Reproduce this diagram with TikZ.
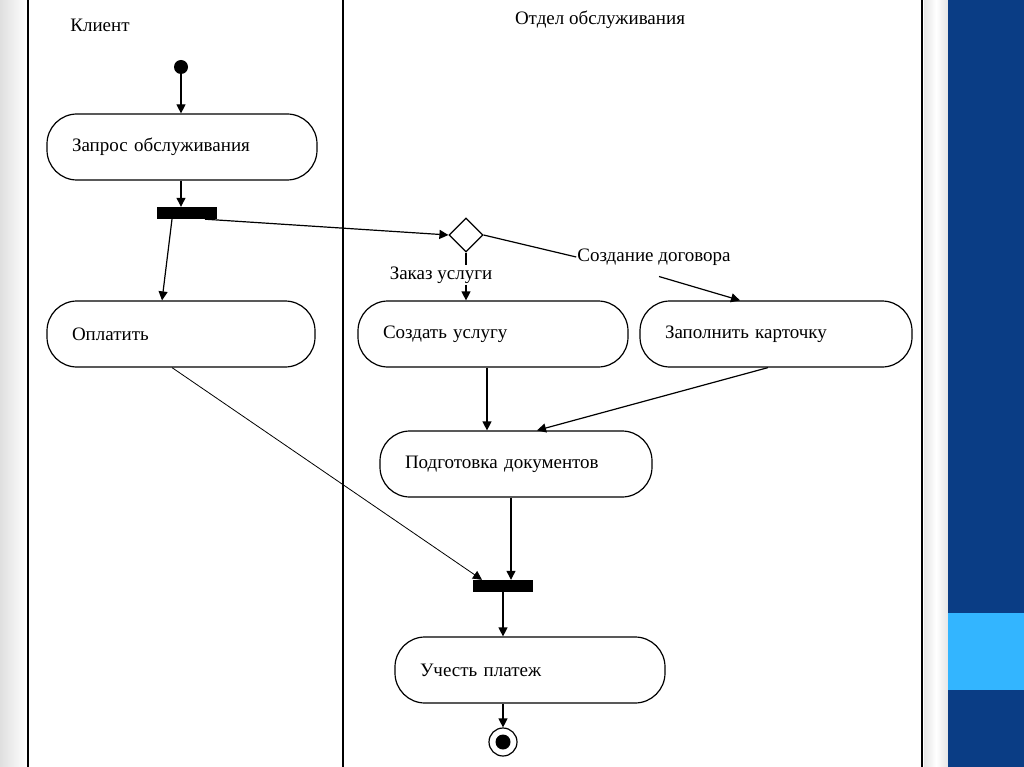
\documentclass[tikz,border=0pt]{standalone}
\usepackage{fontspec}
\setmainfont{Liberation Serif}
\usetikzlibrary{arrows.meta,shapes.geometric}
\definecolor{deepblue}{RGB}{10,61,133}
\definecolor{skyblue}{RGB}{51,181,255}

\begin{document}
\begin{tikzpicture}[x=1pt, y=-1pt,
    act/.style={draw, line width=1.2pt, rounded corners=30pt, minimum height=66pt,
        text width=#1, align=left, inner xsep=25pt},
    bar/.style={fill=black, minimum width=60pt, minimum height=12pt, inner sep=0pt},
    flow/.style={-{Triangle[length=9pt,width=9pt]}, line width=1.2pt},
    lane/.style={line width=2.5pt},
    font=\fontsize{19}{22}\selectfont]
    \useasboundingbox (0,0) rectangle (1024,767);
    \fill[white] (0,0) rectangle (1024,767);
    \shade[left color=gray!25, right color=white] (0,0) rectangle (27,767);
    \shade[left color=gray!20, right color=gray!20, middle color=white] (924,0) rectangle (948,767);
    \fill[deepblue] (948,0) rectangle (1024,767);
    \fill[skyblue] (948,613) rectangle (1024,690);

    \draw[lane] (28,0) -- (28,767);
    \draw[lane] (343,0) -- (343,767);
    \draw[lane] (922,0) -- (922,767);

    \node (client) at (100,25) {Клиент};
    \node (dept) at (600,20) {Отдел обслуживания};

    \node[circle, fill, inner sep=0pt, minimum size=14pt] (start) at (181,67) {};
    \node[act=220pt] (req) at (182,147) {Запрос обслуживания};
    \node[bar] (fork) at (187,213) {};
    \node[act=218pt] (pay) at (181,334) {Оплатить};
    \node[diamond, draw, line width=1.2pt, minimum size=34pt, inner sep=0pt] (dec) at (466,235) {};
    \node[inner sep=1pt] (lblA) at (441,275) {Заказ услуги};
    \node[inner sep=1pt] (lblB) at (654,257) {Создание договора};
    \node[act=220pt] (make) at (493,334) {Создать услугу};
    \node[act=222pt] (card) at (776,334) {Заполнить карточку};
    \node[act=222pt] (docs) at (516,464) {Подготовка документов};
    \node[bar] (join) at (503,586) {};
    \node[act=220pt] (acc) at (530,670) {Учесть платеж};
    \node[circle, draw, line width=1.2pt, minimum size=28pt] (stop) at (503,742) {};
    \node[circle, fill, inner sep=0pt, minimum size=15pt] (stopdot) at (stop) {};

    \draw[flow] (start) -- (start |- req.north);
    \draw[flow] (req.south -| start) -- (fork.north -| start);
    \draw[flow] ([xshift=-15pt]fork.south) -- ([xshift=-19pt]pay.north);
    \draw[flow] ([xshift=18pt]fork.south) -- (dec.west);
    \draw[line width=1.2pt] (dec.south) -- (lblA.north -| dec);
    \draw[flow] (lblA.south -| dec) -- (make.north -| dec);
    \draw[line width=1.2pt] (dec.east) -- (lblB.west);
    \draw[flow] ([xshift=5pt,yshift=-10pt]lblB.south) -- ([xshift=-36pt]card.north);
    \draw[flow] ([xshift=-6pt]make.south) -- ([xshift=-29pt]docs.north);
    \draw[flow] ([xshift=-8pt]card.south) -- ([xshift=21pt]docs.north);
    \draw[flow] ([xshift=-5pt]docs.south) -- ([xshift=8pt]join.north);
    \draw[flow, line width=0.8pt] ([xshift=-9pt]pay.south) -- ([xshift=-21pt]join.north);
    \draw[flow] (join.south) -- (acc.north -| join);
    \draw[flow] (acc.south -| stop) -- (stop.north);
\end{tikzpicture}
\end{document}
